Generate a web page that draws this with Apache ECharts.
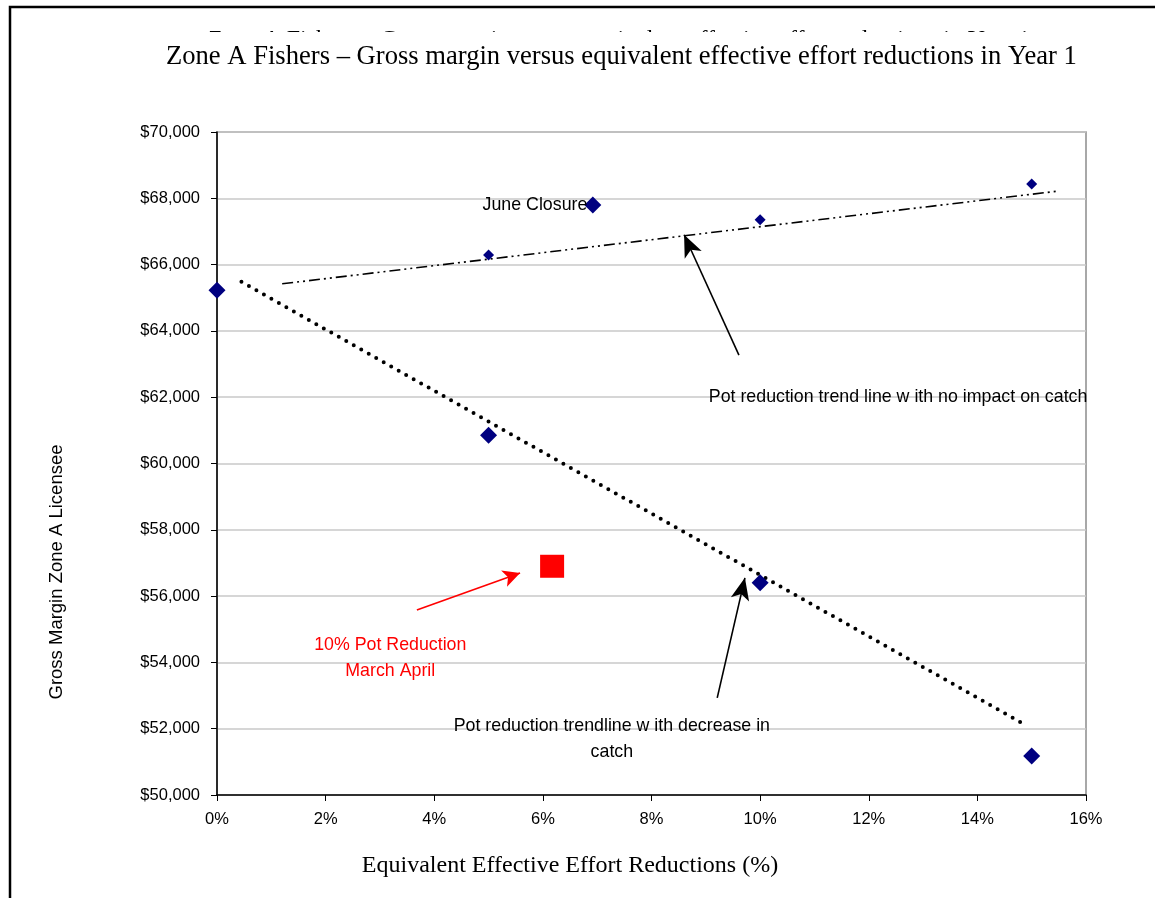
<!DOCTYPE html>
<html>
<head>
  <meta charset="utf-8">
  <title>Zone A Fishers</title>
  <script src="https://cdn.jsdelivr.net/npm/echarts@6/dist/echarts.min.js"></script>
  <style>
    html, body { margin: 0; padding: 0; background: #fff; }
  </style>
</head>
<body>
  <div id="main" style="width: 1155px; height: 898px;"></div>
  <script type="text/javascript">
    // 数据
    var titleText = 'Zone A Fishers \u2013 Gross margin versus equivalent effective effort reductions in Year 1'
    var xName = 'Equivalent Effective Effort Reductions (%)'
    var yName = 'Gross Margin Zone A Licensee'
    var catchX = [0, 5, 10, 15]
    var catchY = [65230, 60850, 56400, 51180]
    var noImpactX = [5, 10, 15]
    var noImpactY = [66290, 67350, 68430]
    var juneClosure = [6.92, 67800]
    var potMarchApril = [6.17, 56900]
    var trendNoImpact = [[1.2, 65420], [15.5, 68220]]
    var trendCatch = [[0.45, 65480], [14.9, 52100]]

    // arrows: [from, to]
    var arrowNoImpact = [[9.61, 63270], [8.6, 66900]]
    var arrowCatch = [[9.21, 52930], [9.72, 56550]]
    var arrowRed = [[3.68, 55580], [5.58, 56700]]

    // annotation texts and where they sit
    var notesBlack = [
      { text: 'Pot reduction trend line w ith no impact on catch', pos: [12.54, 62000] },
      { text: 'Pot reduction trendline w ith decrease in\ncatch', pos: [7.27, 51690] }
    ]
    var notesRed = [
      { text: '10% Pot Reduction\nMarch April', pos: [3.19, 54130] }
    ]

    var SANS = 'Liberation Sans, Arial, sans-serif'
    var SERIF = 'Liberation Serif, Times New Roman, serif'

    function zip(xs, ys) {
      var out = []
      for (var i = 0; i < xs.length; i++) out.push([xs[i], ys[i]])
      return out
    }

    function arrowLine(pair, color, size) {
      return {
        silent: true,
        symbol: ['none', 'arrow'],
        symbolSize: size,
        label: { show: false },
        lineStyle: { color: color, width: 1.6, type: 'solid' },
        emphasis: { disabled: true },
        data: [[{ coord: pair[0] }, { coord: pair[1] }]]
      }
    }

    function noteSeries(notes, color) {
      return {
        type: 'scatter',
        symbolSize: 0,
        silent: true,
        itemStyle: { opacity: 1 },
        data: notes.map(function (n) { return { value: n.pos, note: n.text } }),
        label: {
          show: true,
          position: 'inside',
          formatter: function (p) { return p.data.note },
          color: color,
          opacity: 1,
          fontFamily: SANS,
          fontSize: 17.8,
          lineHeight: 26,
          align: 'center'
        },
        z: 6
      }
    }

    var myChart = echarts.init(document.getElementById('main'))

    var option = {
      backgroundColor: '#ffffff',
      animation: false,
      graphic: [
        // 顶部被遮住的重复标题, 只露出字母顶端
        {
          type: 'text', left: 208, top: 28, z: 1,
          style: { text: titleText, font: '24px ' + SERIF, fill: '#000' }
        },
        {
          type: 'rect', z: 2, shape: { x: 0, y: 0, width: 1155, height: 27 },
          style: { fill: '#fff' }
        },
        {
          type: 'rect', z: 2, shape: { x: 0, y: 32, width: 1155, height: 32 },
          style: { fill: '#fff' }
        },
        {
          type: 'rect', z: 3, shape: { x: 10, y: 7, width: 1300, height: 1000 },
          style: { fill: 'none', stroke: '#000', lineWidth: 2.5 }
        },
        // 坐标轴名称
        {
          type: 'text', x: 570, y: 866, z: 3,
          style: { text: xName, font: '24px ' + SERIF, fill: '#000', align: 'center', verticalAlign: 'middle' }
        },
        {
          type: 'text', x: 57, y: 572, rotation: Math.PI / 2, z: 3,
          style: { text: yName, font: '18.5px ' + SANS, fill: '#000', align: 'center', verticalAlign: 'middle' }
        }
      ],
      title: {
        text: titleText,
        left: 161,
        top: 39,
        z: 10,
        textStyle: { fontFamily: SERIF, fontSize: 26.6, fontWeight: 'normal', color: '#000' }
      },
      grid: {
        left: 217, right: 69, top: 132, bottom: 103,
        show: true, borderColor: '#8c8c8c', borderWidth: 1.5
      },
      xAxis: {
        type: 'value',
        min: 0, max: 16, interval: 2,
        axisLine: { show: true, lineStyle: { color: '#000', width: 1.5 } },
        axisTick: { show: true, length: 6, lineStyle: { color: '#000' } },
        axisLabel: { formatter: '{value}%', fontFamily: SANS, fontSize: 16.5, color: '#000', margin: 16 },
        splitLine: { show: false }
      },
      yAxis: {
        type: 'value',
        min: 50000, max: 70000, interval: 2000,
        axisLine: { show: true, lineStyle: { color: '#000', width: 1.5 } },
        axisTick: { show: true, length: 6, lineStyle: { color: '#000' } },
        axisLabel: {
          fontFamily: SANS, fontSize: 16.5, color: '#000', margin: 17,
          formatter: function (v) { return '$' + v.toLocaleString('en-US') }
        },
        splitLine: { show: true, lineStyle: { color: '#c8c8c8', width: 1.5 } }
      },
      series: [
        // 趋势线 - no impact on catch
        {
          type: 'line',
          data: trendNoImpact,
          symbol: 'none',
          silent: true,
          lineStyle: { color: '#000', width: 1.6, type: [11, 4, 2, 4, 2, 4] },
          z: 3
        },
        // 趋势线 - decrease in catch
        {
          type: 'line',
          data: trendCatch,
          symbol: 'none',
          silent: true,
          lineStyle: { color: '#000', width: 4, type: [0, 8.6], cap: 'round' },
          z: 3
        },
        {
          type: 'scatter',
          data: zip(catchX, catchY),
          symbol: 'diamond',
          symbolSize: [17, 17],
          itemStyle: { color: '#000080', opacity: 1 },
          z: 4,
          markLine: arrowLine(arrowCatch, '#000', [14, 22])
        },
        {
          type: 'scatter',
          data: zip(noImpactX, noImpactY),
          symbol: 'diamond',
          symbolSize: [11, 11],
          itemStyle: { color: '#000080', opacity: 1 },
          z: 4,
          markLine: arrowLine(arrowNoImpact, '#000', [14, 22])
        },
        {
          type: 'scatter',
          data: [juneClosure],
          symbol: 'diamond',
          symbolSize: [17, 17],
          itemStyle: { color: '#000080', opacity: 1 },
          label: {
            show: true, position: 'left', distance: -3,
            formatter: 'June Closure', fontFamily: SANS, fontSize: 17.8, color: '#000'
          },
          z: 4
        },
        {
          type: 'scatter',
          data: [potMarchApril],
          symbol: 'rect',
          symbolSize: [24, 23],
          itemStyle: { color: '#ff0000', opacity: 1 },
          z: 4,
          markLine: arrowLine(arrowRed, '#ff0000', [13, 17])
        },
        noteSeries(notesBlack, '#000'),
        noteSeries(notesRed, '#ff0000')
      ]
    }

    myChart.setOption(option)
  </script>
</body>
</html>
